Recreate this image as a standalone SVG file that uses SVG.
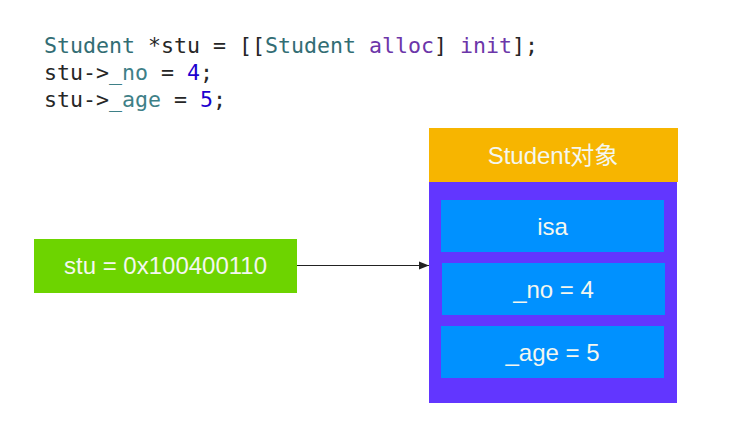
<svg xmlns="http://www.w3.org/2000/svg" width="733" height="425" viewBox="0 0 733 425">
<defs>
<style>
.code{font-family:"DejaVu Sans Mono","Liberation Mono",monospace;font-size:21.6px;fill:#262626}
.cls{fill:#326D74}
.mth{fill:#6C36A9}
.ivar{fill:#3E8087}
.num{fill:#1C00CF}
.lbl{font-family:"Liberation Sans","Noto Sans CJK SC",sans-serif;font-size:24px;fill:#F4F7EF;text-anchor:middle}
</style>
<marker id="arr" viewBox="0 0 10 10" refX="10" refY="5" markerWidth="10" markerHeight="10" markerUnits="userSpaceOnUse" orient="auto">
<path d="M0,1 L10,5 L0,9 z" fill="#222"/>
</marker>
</defs>
<rect width="733" height="425" fill="#fff"/>
<g id="code">
<text class="code" x="44" y="53"><tspan class="cls">Student</tspan> *stu = [[<tspan class="cls">Student</tspan> <tspan class="mth">alloc</tspan>] <tspan class="mth">init</tspan>];</text>
<text class="code" x="44" y="80">stu-&gt;<tspan class="ivar">_no</tspan> = <tspan class="num">4</tspan>;</text>
<text class="code" x="44" y="107">stu-&gt;<tspan class="ivar">_age</tspan> = <tspan class="num">5</tspan>;</text>
</g>
<g id="pointer">
<rect x="34" y="239" width="263" height="54" fill="#6DD400"/>
<text class="lbl" x="165.5" y="274">stu = 0x100400110</text>
</g>
<g id="object">
<rect x="429" y="128" width="249" height="54" fill="#F7B500"/>
<text class="lbl" x="553" y="164">Student对象</text>
<rect x="429" y="182" width="248" height="221" fill="#6236FF"/>
</g>
<g id="isa">
<rect x="441" y="200" width="223" height="52" fill="#0091FF"/>
<text class="lbl" x="552.5" y="235">isa</text>
</g>
<g id="no">
<rect x="442" y="263" width="223" height="52" fill="#0091FF"/>
<text class="lbl" x="553.5" y="298">_no = 4</text>
</g>
<g id="age">
<rect x="441" y="326" width="223" height="52" fill="#0091FF"/>
<text class="lbl" x="552.5" y="361">_age = 5</text>
</g>
<g id="connectors">
<line x1="297" y1="265.5" x2="429" y2="265.5" stroke="#222" stroke-width="1" marker-end="url(#arr)"/>
</g>
</svg>
